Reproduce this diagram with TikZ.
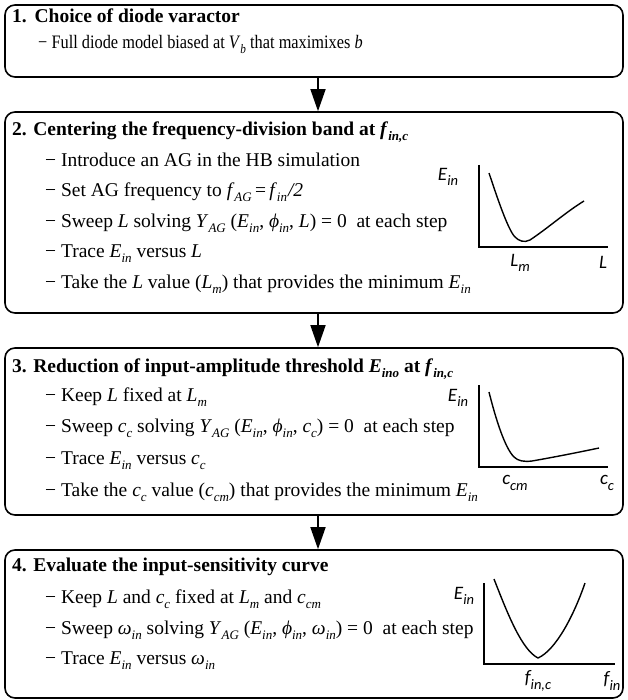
\documentclass[tikz,border=0pt]{standalone}
\usepackage{fontspec}
\setmainfont{Liberation Serif}
\newfontfamily\plotfont{Carlito}
\newfontfamily\narrowserif[FakeStretch=0.86]{Liberation Serif}
\usetikzlibrary{arrows.meta}
\newcommand\sbs[1]{\raisebox{-0.28em}{\fontsize{13}{13}\selectfont\itshape #1}}
\newcommand\psb[1]{\raisebox{-0.3em}{\fontsize{14.5}{14.5}\selectfont #1}}
\begin{document}
\begin{tikzpicture}[x=1pt,y=-1pt,
  box/.style={draw, line width=1.6pt, rounded corners=10pt, minimum width=618pt, inner sep=0pt},
  hdr/.style={anchor=mid west, inner sep=0pt, font=\fontsize{19.5}{21}\selectfont\bfseries},
  itm/.style={anchor=mid west, inner sep=0pt, font=\fontsize{19.5}{21}\selectfont},
  hdra/.style={anchor=mid west, inner sep=0pt, font=\fontsize{19.5}{21}\selectfont\bfseries},
  itma/.style={anchor=mid west, inner sep=0pt, font=\narrowserif\fontsize{19}{21}\selectfont},
  arr/.style={line width=1.5pt, -{Triangle[width=15pt,length=22pt]}},
  axisline/.style={line width=1.4pt},
  crv/.style={line width=1.4pt, line join=round},
  plbl/.style={inner sep=0pt, font=\fontsize{19}{19}\selectfont\plotfont\itshape}]
\useasboundingbox (0,0) rectangle (627,700);
% boxes
\node[box, minimum height=72pt]  (b1) at (314,41) {};
\node[box, minimum height=201pt] (b2) at (314,212.5) {};
\node[box, minimum height=167pt] (b3) at (314,431.5) {};
\node[box, minimum height=148pt] (b4) at (314,624) {};
% arrows
\draw[arr] ([xshift=4pt]b1.south) -- ([xshift=4pt]b2.north);
\draw[arr] ([xshift=4pt]b2.south) -- ([xshift=4pt]b3.north);
\draw[arr] ([xshift=4pt]b3.south) -- ([xshift=4pt]b4.north);
% box 1
\node[hdra] (h1) at (12,20) {1.\hspace{0.4em}Choice of diode varactor};
\node[itma] (t11) at (38,46) {− Full diode model biased at \textit{V}\sbs{b} that maximixes \textit{b}};
% box 2
\node[hdr] (h2) at (12,133) {2. Centering the frequency-division band at \textit{f}\sbs{in,c}};
\node[itm] (t21) at (45,164) {− Introduce an AG in the HB simulation};
\node[itm] (t22) at (45,194) {− Set AG frequency to \textit{f}\sbs{AG}\,=\,\textit{f}\sbs{in}\kern1pt\textit{/2}};
\node[itm] (t23) at (45,225) {− Sweep \textit{L} solving \textit{Y}\sbs{AG} (\textit{E}\sbs{in}, \textit{ϕ}\sbs{in}, \textit{L}) = 0 \ at each step};
\node[itm] (t24) at (45,255) {− Trace \textit{E}\sbs{in} versus \textit{L}};
\node[itm] (t25) at (45,286) {− Take the \textit{L} value (\textit{L}\sbs{m}) that provides the minimum \textit{E}\sbs{in}};
% box 3
\node[hdr] (h3) at (12,370) {3. Reduction of input-amplitude threshold \textit{E}\sbs{ino} at \textit{f}\sbs{in,c}};
\node[itm] (t31) at (45,399) {− Keep \textit{L} fixed at \textit{L}\sbs{m}};
\node[itm] (t32) at (45,430) {− Sweep \textit{c}\sbs{c} solving \textit{Y}\sbs{AG} (\textit{E}\sbs{in}, \textit{ϕ}\sbs{in}, \textit{c}\sbs{c}) = 0 \ at each step};
\node[itm] (t33) at (45,462) {− Trace \textit{E}\sbs{in} versus \textit{c}\sbs{c}};
\node[itm] (t34) at (45,494) {− Take the \textit{c}\sbs{c} value (\textit{c}\sbs{cm}) that provides the minimum \textit{E}\sbs{in}};
% box 4
\node[hdr] (h4) at (12,569) {4. Evaluate the input-sensitivity curve};
\node[itm] (t41) at (45,601) {− Keep \textit{L} and \textit{c}\sbs{c} fixed at \textit{L}\sbs{m} and \textit{c}\sbs{cm}};
\node[itm] (t42) at (45,632) {− Sweep \textit{ω}\sbs{in} solving \textit{Y}\sbs{AG} (\textit{E}\sbs{in}, \textit{ϕ}\sbs{in}, \textit{ω}\sbs{in}) = 0 \ at each step};
\node[itm] (t43) at (45,662) {− Trace \textit{E}\sbs{in} versus \textit{ω}\sbs{in}};
% plot 2
\draw[axisline] (479,165) -- (479,247) -- (608,247);
\draw[crv] (489,173) .. controls (497,197) and (508,230) .. (515,237) .. controls (519,241) and (524,243) .. (530,240) .. controls (548,228) and (566,212) .. (584,201);
\node[plbl] (p2y) at (448,177) {E\psb{in}};
\node[plbl] (p2m) at (520,263) {L\psb{m}};
\node[plbl] (p2x) at (603,262) {L};
% plot 3
\draw[axisline] (479,385) -- (479,467) -- (608,467);
\draw[crv] (489,392) .. controls (496,420) and (505,448) .. (514,457) .. controls (518,461) and (524,462) .. (532,461) .. controls (555,457) and (580,452) .. (599,448);
\node[plbl] (p3y) at (458,398) {E\psb{in}};
\node[plbl] (p3m) at (515,483) {c\psb{cm}};
\node[plbl] (p3x) at (607,483) {c\psb{c}};
% plot 4
\draw[axisline] (484,583) -- (484,664) -- (615,664);
\draw[crv] (494,579) .. controls (508,615) and (522,650) .. (538,658) .. controls (556,650) and (574,615) .. (585,583);
\node[plbl] (p4y) at (464,596) {E\psb{in}};
\node[plbl] (p4m) at (538,681) {f\psb{in,c}};
\node[plbl] (p4x) at (612,681) {f\psb{in}};
\end{tikzpicture}
\end{document}
